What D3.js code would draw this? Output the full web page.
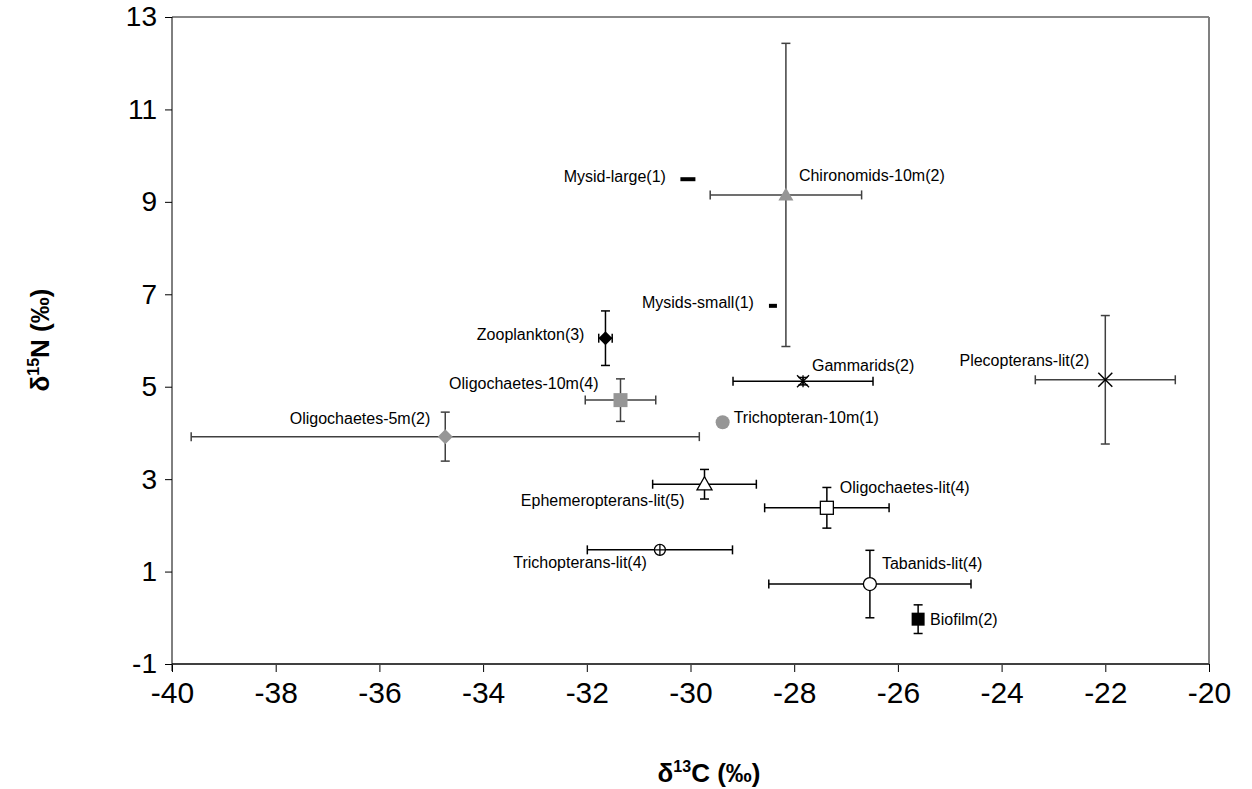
<!DOCTYPE html>
<html>
<head>
<meta charset="utf-8">
<script src="https://cdn.jsdelivr.net/npm/d3@7"></script>
<style>
  html, body { margin: 0; padding: 0; background: #fff; }
  svg { display: block; font-family: "Liberation Sans", Arial, sans-serif; }
</style>
</head>
<body>
<svg id="chart" width="1252" height="789"></svg>
<script>
// Stable isotope values (mean ± SD) for each consumer group, n in parentheses
const taxa = [
  "Mysid-large(1)", "Chironomids-10m(2)", "Mysids-small(1)", "Zooplankton(3)",
  "Gammarids(2)", "Plecopterans-lit(2)", "Oligochaetes-10m(4)", "Oligochaetes-5m(2)",
  "Trichopteran-10m(1)", "Ephemeropterans-lit(5)", "Oligochaetes-lit(4)",
  "Trichopterans-lit(4)", "Tabanids-lit(4)", "Biofilm(2)"
];
const d13C = [-30.05, -28.16, -28.41, -31.64, -27.83, -22.0, -31.35, -34.73, -29.38, -29.73, -27.37, -30.59, -26.54, -25.61];
const d15N = [9.49, 9.15, 6.75, 6.05, 5.12, 5.15, 4.71, 3.92, 4.23, 2.89, 2.38, 1.47, 0.73, -0.03];
const sdC  = [0, 1.46, 0, 0.13, 1.35, 1.35, 0.68, 4.9, 0, 1.0, 1.2, 1.4, 1.95, 0];
const sdN  = [0, 3.28, 0, 0.59, 0.08, 1.39, 0.46, 0.53, 0, 0.32, 0.44, 0, 0.73, 0.31];

const xTicks = [-40, -38, -36, -34, -32, -30, -28, -26, -24, -22, -20];
const yTicks = [-1, 1, 3, 5, 7, 9, 11, 13];

// Marker appearance per group
const grey = "#969696";
const markerStyle = {
  "Mysid-large(1)":         { shape: "dash", w: 15, h: 4, fill: "#000" },
  "Chironomids-10m(2)":     { shape: "triangle", s: 15, fill: grey, stroke: "none", bar: "#404040" },
  "Mysids-small(1)":        { shape: "dash", w: 8, h: 4, fill: "#000" },
  "Zooplankton(3)":         { shape: "diamond", s: 14, fill: "#000", stroke: "none" },
  "Gammarids(2)":           { shape: "star", s: 12, fill: "none", stroke: "#000" },
  "Plecopterans-lit(2)":    { shape: "x", s: 14, fill: "none", stroke: "#000", bar: "#404040" },
  "Oligochaetes-10m(4)":    { shape: "square", s: 14, fill: grey, stroke: "none", bar: "#404040" },
  "Oligochaetes-5m(2)":     { shape: "diamond", s: 15, fill: grey, stroke: "none", bar: "#404040" },
  "Trichopteran-10m(1)":    { shape: "circle", s: 14, fill: grey, stroke: "none" },
  "Ephemeropterans-lit(5)": { shape: "triangle", s: 15, fill: "#fff", stroke: "#000" },
  "Oligochaetes-lit(4)":    { shape: "square", s: 13, fill: "#fff", stroke: "#000" },
  "Trichopterans-lit(4)":   { shape: "circleplus", s: 11, fill: "#fff", stroke: "#000" },
  "Tabanids-lit(4)":        { shape: "circle", s: 13, fill: "#fff", stroke: "#000" },
  "Biofilm(2)":             { shape: "square", s: 13, fill: "#000", stroke: "none" }
};

// Label placement relative to each marker (pixels)
const labelPlace = {
  "Mysid-large(1)":         { dx: -22, dy: -3,  anchor: "end" },
  "Chironomids-10m(2)":     { dx: 13,  dy: -19, anchor: "start" },
  "Mysids-small(1)":        { dx: -19, dy: -3,  anchor: "end" },
  "Zooplankton(3)":         { dx: -21, dy: -4,  anchor: "end" },
  "Gammarids(2)":           { dx: 9,   dy: -16, anchor: "start" },
  "Plecopterans-lit(2)":    { dx: -16, dy: -19, anchor: "end" },
  "Oligochaetes-10m(4)":    { dx: -22, dy: -17, anchor: "end" },
  "Oligochaetes-5m(2)":     { dx: -15, dy: -18, anchor: "end" },
  "Trichopteran-10m(1)":    { dx: 11,  dy: -5,  anchor: "start" },
  "Ephemeropterans-lit(5)": { dx: -20, dy: 16,  anchor: "end" },
  "Oligochaetes-lit(4)":    { dx: 13,  dy: -20, anchor: "start" },
  "Trichopterans-lit(4)":   { dx: -13, dy: 13,  anchor: "end" },
  "Tabanids-lit(4)":        { dx: 12,  dy: -21, anchor: "start" },
  "Biofilm(2)":             { dx: 12,  dy: 0,   anchor: "start" }
};

const svg = d3.select("#chart");
const plot = { left: 172, top: 17, right: 1209, bottom: 664 };

const x = d3.scaleLinear().domain([-40, -20]).range([plot.left, plot.right]);
const y = d3.scaleLinear().domain([-1, 13]).range([plot.bottom, plot.top]);

// Axes
const yAxis = svg.append("g")
  .attr("transform", `translate(${plot.left},0)`)
  .call(d3.axisLeft(y).tickValues(yTicks).tickSize(7).tickPadding(8).tickFormat(d => String(d)));
yAxis.select(".domain").remove();
yAxis.selectAll(".tick line").attr("stroke", "#000");
yAxis.selectAll(".tick text").attr("font-size", 28).attr("fill", "#000")
  .attr("font-family", "Liberation Sans, Arial, sans-serif");

const xAxis = svg.append("g")
  .attr("transform", `translate(0,${plot.bottom})`)
  .call(d3.axisBottom(x).tickValues(xTicks).tickSize(8).tickPadding(10).tickFormat(d => String(d)));
xAxis.select(".domain").remove();
xAxis.selectAll(".tick line").attr("stroke", "#000");
xAxis.selectAll(".tick text").attr("font-size", 30).attr("fill", "#000")
  .attr("font-family", "Liberation Sans, Arial, sans-serif");

// Plot frame
svg.append("line").attr("x1", plot.left).attr("x2", plot.right).attr("y1", plot.top).attr("y2", plot.top)
  .attr("stroke", "#606060").attr("stroke-width", 1.5);
svg.append("line").attr("x1", plot.right).attr("x2", plot.right).attr("y1", plot.top).attr("y2", plot.bottom)
  .attr("stroke", "#808080").attr("stroke-width", 2);
svg.append("line").attr("x1", plot.left).attr("x2", plot.right).attr("y1", plot.bottom).attr("y2", plot.bottom)
  .attr("stroke", "#404040").attr("stroke-width", 2);
svg.append("line").attr("x1", plot.left).attr("x2", plot.left).attr("y1", plot.top).attr("y2", plot.bottom + 7)
  .attr("stroke", "#000").attr("stroke-width", 1);

// Axis titles
const xTitle = svg.append("text")
  .attr("x", 709).attr("y", 782)
  .attr("text-anchor", "middle")
  .attr("font-weight", "bold").attr("font-size", 26);
xTitle.append("tspan").text("δ");
xTitle.append("tspan").attr("font-size", 16).attr("dy", -10).text("13");
xTitle.append("tspan").attr("dy", 10).text("C (‰)");

const yTitle = svg.append("text")
  .attr("transform", "translate(49,340) rotate(-90)")
  .attr("text-anchor", "middle")
  .attr("font-weight", "bold").attr("font-size", 26);
yTitle.append("tspan").text("δ");
yTitle.append("tspan").attr("font-size", 16).attr("dy", -10).text("15");
yTitle.append("tspan").attr("dy", 10).text("N (‰)");

// Build point records from the arrays
const points = taxa.map((name, i) => ({
  name, c: d13C[i], n: d15N[i], sc: sdC[i], sn: sdN[i]
}));

const cap = 4.5;
const bars = svg.append("g");
points.forEach(p => {
  const st = markerStyle[p.name];
  const col = st.bar || "#000";
  const cx = x(p.c), cy = y(p.n);
  if (p.sc > 0) {
    const x0 = x(p.c - p.sc), x1 = x(p.c + p.sc);
    bars.append("line").attr("x1", x0).attr("x2", x1).attr("y1", cy).attr("y2", cy)
      .attr("stroke", col).attr("stroke-width", 1.5);
    [x0, x1].forEach(xx => bars.append("line").attr("x1", xx).attr("x2", xx)
      .attr("y1", cy - cap).attr("y2", cy + cap).attr("stroke", col).attr("stroke-width", 1.5));
  }
  if (p.sn > 0) {
    const y0 = y(p.n - p.sn), y1 = y(p.n + p.sn);
    bars.append("line").attr("x1", cx).attr("x2", cx).attr("y1", y0).attr("y2", y1)
      .attr("stroke", col).attr("stroke-width", 1.5);
    [y0, y1].forEach(yy => bars.append("line").attr("y1", yy).attr("y2", yy)
      .attr("x1", cx - cap).attr("x2", cx + cap).attr("stroke", col).attr("stroke-width", 1.5));
  }
});

// Markers
const marks = svg.append("g");
points.forEach(p => {
  const st = markerStyle[p.name];
  const g = marks.append("g").attr("transform", `translate(${x(p.c)},${y(p.n)})`);
  const s = st.s, h = s / 2;
  switch (st.shape) {
    case "dash":
      g.append("rect").attr("x", -st.w / 2).attr("y", -st.h / 2).attr("width", st.w).attr("height", st.h)
        .attr("fill", st.fill);
      break;
    case "triangle":
      g.append("path").attr("d", `M0,${-h}L${h},${h * 0.75}L${-h},${h * 0.75}Z`)
        .attr("fill", st.fill).attr("stroke", st.stroke).attr("stroke-width", 1.3);
      break;
    case "diamond":
      g.append("path").attr("d", `M0,${-h}L${h},0L0,${h}L${-h},0Z`)
        .attr("fill", st.fill).attr("stroke", st.stroke);
      break;
    case "square":
      g.append("rect").attr("x", -h).attr("y", -h).attr("width", s).attr("height", s)
        .attr("fill", st.fill).attr("stroke", st.stroke).attr("stroke-width", 1.3);
      break;
    case "circle":
      g.append("circle").attr("r", h).attr("fill", st.fill).attr("stroke", st.stroke).attr("stroke-width", 1.3);
      break;
    case "circleplus":
      g.append("circle").attr("r", h).attr("fill", st.fill).attr("stroke", st.stroke).attr("stroke-width", 1.3);
      g.append("path").attr("d", `M${-h},0H${h}M0,${-h}V${h}`).attr("stroke", st.stroke).attr("stroke-width", 1.3);
      break;
    case "x":
      g.append("path").attr("d", `M${-h},${-h}L${h},${h}M${-h},${h}L${h},${-h}`)
        .attr("stroke", st.stroke).attr("stroke-width", 1.5);
      break;
    case "star":
      g.append("path").attr("d", `M${-h},${-h}L${h},${h}M${-h},${h}L${h},${-h}M0,${-h}V${h}`)
        .attr("stroke", st.stroke).attr("stroke-width", 1.3);
      break;
  }
});

// Group labels
svg.append("g").selectAll("text").data(points).join("text")
  .attr("x", d => x(d.c) + labelPlace[d.name].dx)
  .attr("y", d => y(d.n) + labelPlace[d.name].dy)
  .attr("text-anchor", d => labelPlace[d.name].anchor)
  .attr("dominant-baseline", "central")
  .attr("font-size", 16)
  .attr("fill", "#000")
  .text(d => d.name);
</script>
</body>
</html>
